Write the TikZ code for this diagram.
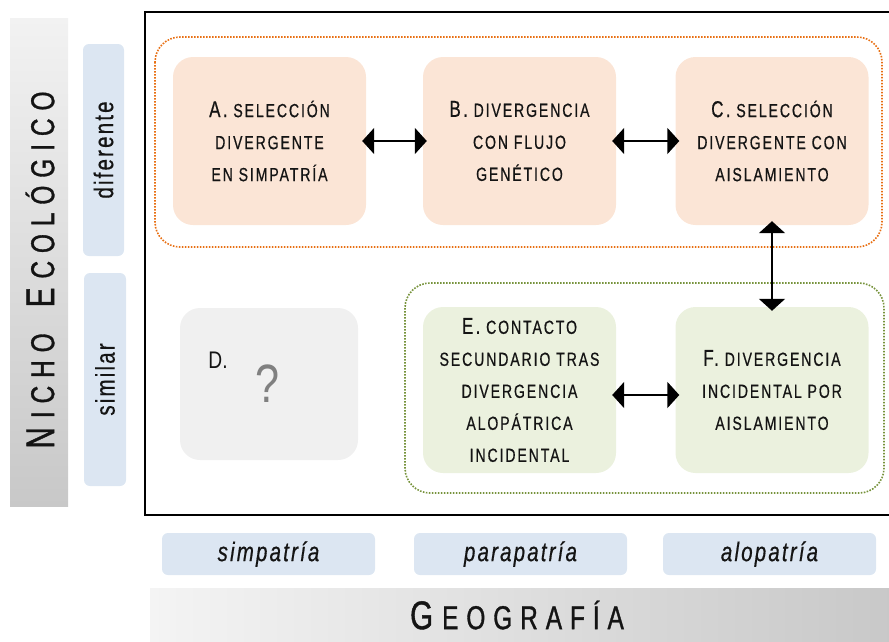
\documentclass[tikz,border=0pt]{standalone}
\usepackage{fontspec}
\setmainfont{Liberation Sans}[FakeStretch=0.74,FakeBold=0.6]
\newfontfamily\boxfont{Liberation Sans}[FakeStretch=0.74,LetterSpace=10,FakeBold=0.6]
\newfontfamily\titlefont{Liberation Sans}[FakeStretch=0.74,LetterSpace=24,FakeBold=1]
\newfontfamily\labfont{Liberation Sans}[FakeStretch=0.76,LetterSpace=8,FakeBold=0.5]
\newfontfamily\thinfont{Liberation Sans}[FakeStretch=0.8]
\usetikzlibrary{arrows.meta}
\definecolor{orfill}{RGB}{251,229,214}
\definecolor{grfill}{RGB}{235,241,222}
\definecolor{dfill}{RGB}{240,240,240}
\definecolor{bluefill}{RGB}{220,230,242}
\definecolor{ordot}{RGB}{232,112,20}
\definecolor{grdot}{RGB}{119,147,60}
\definecolor{txt}{RGB}{20,20,20}
\newcommand{\BigL}[1]{{\fontsize{23}{32}\selectfont #1}}
\newcommand{\TBig}[1]{{\fontsize{40}{44}\selectfont #1}\hspace{9pt}}
\begin{document}
\begin{tikzpicture}[x=1pt,y=-1pt,
  stage/.style={rounded corners=20pt, minimum width=193pt, minimum height=168pt,
    inner sep=0pt, align=center, text=txt,
    font=\boxfont\fontsize{19}{32}\selectfont},
  axislab/.style={fill=bluefill, rounded corners=6pt, inner sep=0pt, text=txt},
  grouping/.style={rounded corners=25pt, line width=1.6pt, dash pattern=on 1.6pt off 1.4pt},
  dbl/.style={line width=2pt, {Triangle[width=26pt,length=12pt]}-{Triangle[width=26pt,length=12pt]},
    shorten <=-4pt, shorten >=-4pt}
]
\useasboundingbox (0,0) rectangle (889,641);

% axis bars
\shade[top color={rgb,255:red,242;green,242;blue,242}, bottom color={rgb,255:red,200;green,200;blue,200}]
  (10,18) rectangle (68,506);
\node[rotate=90, text=txt, font=\titlefont\fontsize{33}{36}\selectfont] (nicho) at (40,270)
  {\TBig{N}ICHO\hspace{26pt}\TBig{E}COLÓGICO};
\shade[left color={rgb,255:red,244;green,244;blue,244}, right color={rgb,255:red,200;green,200;blue,200}]
  (150,588) rectangle (895,645);
\node[text=txt, font=\titlefont\fontsize{33}{36}\selectfont] (geo) at (517,615)
  {\TBig{G}EOGRAFÍA};

% axis labels
\node[axislab, minimum width=41pt, minimum height=212pt] (dif) at (103.5,150) {};
\node[rotate=90, text=txt, font=\labfont\fontsize{27}{30}\selectfont] at (dif.center) {diferente};
\node[axislab, minimum width=42pt, minimum height=213pt] (sim) at (105,379.5) {};
\node[rotate=90, text=txt, font=\labfont\fontsize{27}{30}\selectfont] at (sim.center) {similar};

\node[axislab, minimum width=213pt, minimum height=42pt] (simp) at (268.5,554) {};
\node[text=txt, font=\labfont\itshape\fontsize{27}{30}\selectfont] at (simp.center) {simpatría};
\node[axislab, minimum width=213pt, minimum height=42pt] (para) at (520.5,554) {};
\node[text=txt, font=\labfont\itshape\fontsize{27}{30}\selectfont] at (para.center) {parapatría};
\node[axislab, minimum width=213pt, minimum height=42pt] (alo) at (769.5,554) {};
\node[text=txt, font=\labfont\itshape\fontsize{27}{30}\selectfont] at (alo.center) {alopatría};

% main frame
\draw[line width=2pt] (145,12) rectangle (895,515);

% groupings
\draw[grouping, draw=ordot] (155,37) rectangle (882,247);
\draw[grouping, draw=grdot] (405,283) rectangle (884,493);

% stages
\node[stage, fill=orfill] (A) at (269.5,141) {\BigL{A.} SELECCIÓN\\DIVERGENTE\\EN SIMPATRÍA};
\node[stage, fill=orfill] (B) at (519.5,141) {\BigL{B.} DIVERGENCIA\\CON FLUJO\\GENÉTICO};
\node[stage, fill=orfill] (C) at (772,141) {\BigL{C.} SELECCIÓN\\DIVERGENTE CON\\AISLAMIENTO};
\node[stage, fill=grfill, minimum height=166pt] (E) at (519.5,390) {\BigL{E.} CONTACTO\\SECUNDARIO TRAS\\DIVERGENCIA\\ALOPÁTRICA\\INCIDENTAL};
\node[stage, fill=grfill, minimum height=166pt] (F) at (772,390) {\BigL{F.} DIVERGENCIA\\INCIDENTAL POR\\AISLAMIENTO};
\node[stage, fill=dfill, minimum width=178pt, minimum height=152pt] (D) at (269,384) {};
\node[text=txt, font=\thinfont\fontsize{24}{28}\selectfont] (Dl) at (218,360) {D.};
\node[text={rgb,255:red,128;green,128;blue,128}, font=\thinfont\fontsize{54}{58}\selectfont] (Dq) at (268,384) {?};

% connectors
\draw[dbl] (A.east) -- (B.west);
\draw[dbl] (B.east) -- (C.west);
\draw[dbl] ([yshift=-5pt]E.east) -- ([yshift=-5pt]F.west);
\draw[dbl] (C.south) -- (F.north);
\end{tikzpicture}
\end{document}
